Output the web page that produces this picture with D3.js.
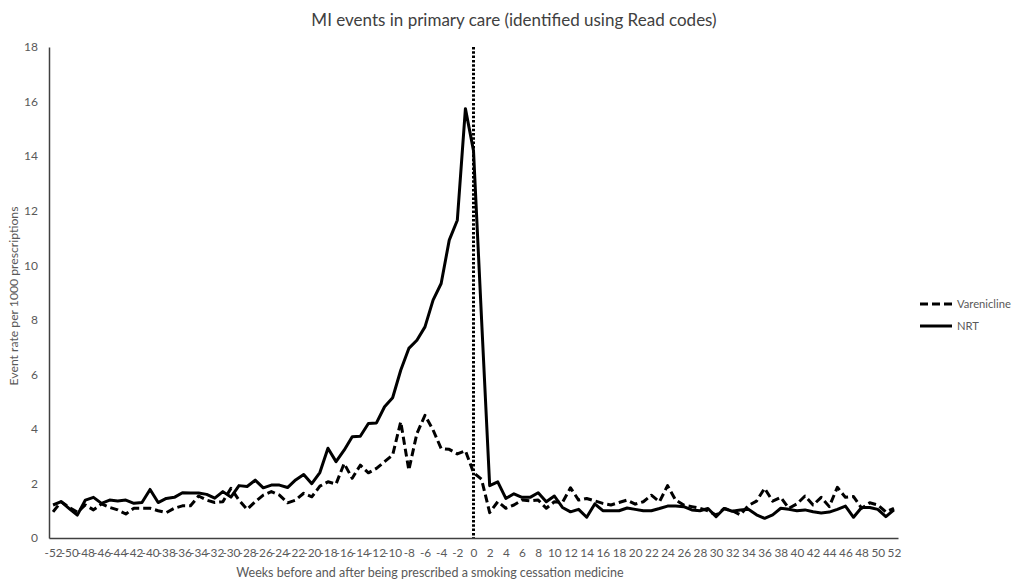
<!DOCTYPE html>
<html>
<head>
<meta charset="utf-8">
<script src="https://cdn.jsdelivr.net/npm/d3@7"></script>
<style>
  html, body { margin: 0; padding: 0; background: #fff; }
  svg text { font-family: Lato, "Open Sans", sans-serif; }
</style>
</head>
<body>
<svg id="chart" width="1013" height="586"></svg>
<script>
const weeks = d3.range(-52, 53);

const varenicline = [
  0.96, 1.33, 1.12, 0.95, 1.21, 1.03, 1.25, 1.12, 1.03, 0.88, 1.09, 1.09, 1.09,
  1.00, 0.93, 1.09, 1.18, 1.18, 1.54, 1.39, 1.30, 1.33, 1.82, 1.39, 1.05, 1.33,
  1.57, 1.70, 1.57, 1.29, 1.39, 1.64, 1.51, 1.90, 2.06, 1.98, 2.73, 2.19, 2.67,
  2.39, 2.55, 2.80, 3.04, 4.26, 2.49, 3.83, 4.50, 3.96, 3.28, 3.25, 3.08, 3.20,
  2.40,
  2.15, 0.93, 1.33, 1.09, 1.21, 1.39, 1.36, 1.39, 1.09, 1.33, 1.30, 1.84, 1.39,
  1.45, 1.36, 1.27, 1.21, 1.30, 1.39, 1.24, 1.33, 1.57, 1.33, 1.92, 1.39, 1.21,
  1.15, 1.09, 1.00, 0.84, 1.08, 1.00, 0.85, 1.19, 1.35, 1.82, 1.35, 1.49, 1.09,
  1.25, 1.54, 1.21, 1.49, 1.15, 1.86, 1.49, 1.52, 1.09, 1.29, 1.21, 0.96, 1.09
];

const nrt = [
  1.21, 1.33, 1.08, 0.84, 1.39, 1.49, 1.27, 1.39, 1.36, 1.39, 1.27, 1.30, 1.78,
  1.30, 1.45, 1.49, 1.66, 1.65, 1.65, 1.60, 1.46, 1.70, 1.50, 1.92, 1.89, 2.12,
  1.84, 1.94, 1.94, 1.85, 2.13, 2.33, 1.99, 2.40, 3.29, 2.80, 3.22, 3.71, 3.73,
  4.20, 4.22, 4.81, 5.14, 6.15, 6.95, 7.25, 7.74, 8.72, 9.33, 10.92, 11.65, 15.74,
  14.20,
  8.00, 1.92, 2.06, 1.45, 1.62, 1.49, 1.49, 1.66, 1.33, 1.54, 1.12, 0.96, 1.05,
  0.76, 1.25, 1.00, 1.00, 1.00, 1.10, 1.05, 1.00, 1.00, 1.08, 1.17, 1.17, 1.15,
  1.03, 1.00, 1.08, 0.78, 1.08, 0.98, 1.03, 1.05, 0.85, 0.72, 0.85, 1.09, 1.05,
  1.00, 1.03, 0.96, 0.92, 0.95, 1.05, 1.17, 0.76, 1.12, 1.12, 1.05, 0.78, 1.03
];

const yTicks = [0, 2, 4, 6, 8, 10, 12, 14, 16, 18];
const xTickLabels = weeks.filter(w => w % 2 === 0);
const seriesNames = ["Varenicline", "NRT"];
const markerWeek = 0;

const titleText = "MI events in primary care (identified using Read codes)";
const xTitle = "Weeks before and after being prescribed a smoking cessation medicine";
const yTitle = "Event rate per 1000 prescriptions";

const svg = d3.select("#chart");
const plotLeft = 49, plotRight = 898, plotTop = 47, plotBottom = 538;

const x = d3.scalePoint().domain(weeks).range([plotLeft, plotRight]).padding(0.5);
const y = d3.scaleLinear().domain([0, 18]).range([plotBottom, plotTop]);

const grey = "#595959";

// title
svg.append("text")
  .attr("x", 514).attr("y", 26)
  .attr("text-anchor", "middle")
  .attr("font-size", 17)
  .attr("fill", "#404040")
  .text(titleText);

// y axis
const yAxis = svg.append("g")
  .attr("transform", `translate(${plotLeft},0)`)
  .call(d3.axisLeft(y).tickValues(yTicks).tickSize(0).tickPadding(11));
yAxis.select(".domain").attr("stroke", "#404040").attr("stroke-width", 1.5);
yAxis.selectAll("text").attr("fill", grey).attr("font-size", 12)
  .attr("font-family", "Lato, 'Open Sans', sans-serif");

// x axis
const xAxis = svg.append("g")
  .attr("transform", `translate(0,${plotBottom})`)
  .call(d3.axisBottom(x).tickValues(xTickLabels).tickSize(0).tickPadding(11));
xAxis.select(".domain").attr("stroke", "#404040").attr("stroke-width", 1.5);
xAxis.selectAll("text").attr("fill", grey).attr("font-size", 11.8)
  .attr("font-family", "Lato, 'Open Sans', sans-serif");

// axis titles
svg.append("text")
  .attr("x", 430).attr("y", 577)
  .attr("text-anchor", "middle")
  .attr("font-size", 12.5)
  .attr("fill", grey)
  .text(xTitle);

svg.append("text")
  .attr("transform", `translate(18,296) rotate(-90)`)
  .attr("text-anchor", "middle")
  .attr("font-size", 12.2)
  .attr("fill", grey)
  .text(yTitle);

// marker line at week 0
svg.append("line")
  .attr("x1", x(markerWeek)).attr("x2", x(markerWeek))
  .attr("y1", y(18)).attr("y2", plotBottom)
  .attr("stroke", "#000").attr("stroke-width", 3)
  .attr("stroke-dasharray", "2.5,1.8");

const line = d3.line()
  .x((d, i) => x(weeks[i]))
  .y(d => y(d));

svg.append("path")
  .datum(varenicline)
  .attr("d", line)
  .attr("fill", "none")
  .attr("stroke", "#000")
  .attr("stroke-width", 3)
  .attr("stroke-linejoin", "round")
  .attr("stroke-dasharray", "8,4");

svg.append("path")
  .datum(nrt)
  .attr("d", line)
  .attr("fill", "none")
  .attr("stroke", "#000")
  .attr("stroke-width", 3)
  .attr("stroke-linejoin", "round");

// legend
const legend = svg.append("g");
seriesNames.forEach((name, i) => {
  const ly = 304 + i * 22;
  legend.append("line")
    .attr("x1", 920).attr("x2", 952)
    .attr("y1", ly).attr("y2", ly)
    .attr("stroke", "#000").attr("stroke-width", 3)
    .attr("stroke-dasharray", i === 0 ? "8,4" : null);
  legend.append("text")
    .attr("x", 957).attr("y", ly)
    .attr("dy", "0.35em")
    .attr("font-size", 11.2)
    .attr("fill", grey)
    .text(name);
});
</script>
</body>
</html>
